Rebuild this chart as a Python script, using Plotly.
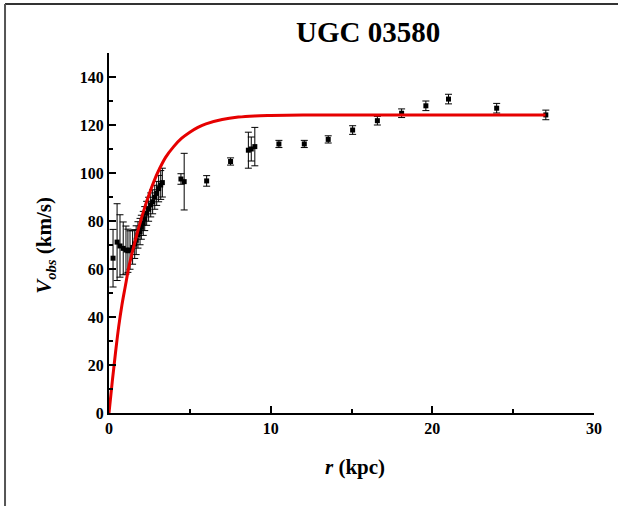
import plotly.graph_objects as go

# Observed rotation curve of UGC 03580
r_obs = [0.25, 0.50, 0.68, 0.88, 1.05, 1.17, 1.30, 1.46, 1.59, 1.68, 1.79, 1.92,
         2.00, 2.12, 2.21, 2.33, 2.45, 2.58, 2.70, 2.83, 2.95, 3.07, 3.20, 3.30,
         4.45, 4.65, 6.04, 7.52, 8.62, 8.80, 9.02, 10.51, 12.08, 13.56, 15.07,
         16.60, 18.10, 19.60, 21.00, 23.98, 27.02]
v_obs = [64.5, 71.2, 69.6, 68.6, 67.9, 67.6, 67.9, 69.0, 70.4, 72.0, 74.2, 75.6,
         77.4, 79.0, 81.0, 83.2, 84.9, 86.7, 88.0, 89.9, 91.5, 93.5, 95.0, 96.0,
         97.5, 96.4, 96.7, 104.8, 109.5, 110.0, 111.0, 112.1, 112.1, 114.0, 117.9,
         121.8, 124.9, 128.0, 130.8, 127.0, 124.2]
v_err = [12, 16, 13, 11, 10, 9, 8, 7, 6, 6, 5.5, 5.5,
         5, 5, 5, 5, 5, 5, 5, 5, 5, 5.5, 6, 6,
         2.2, 11.8, 2.2, 1.5, 7.5, 5, 8, 1.5, 1.5, 1.5, 1.8,
         1.8, 1.8, 2, 2, 2, 2]

# Model rotation curve
r_fit = [0, 0.2, 0.4, 0.6, 0.8, 1.0, 1.25, 1.5, 1.75, 2.0, 2.25, 2.5, 2.75, 3.0,
         3.5, 4.0, 4.5, 5.0, 5.5, 6.0, 7.0, 8.0, 9.0, 10.0, 12.0, 15.0, 20.0, 27.0]
v_fit = [0, 13, 25, 36, 45, 52.5, 61.5, 68.5, 75, 81, 86.5, 91.5, 96, 100,
         106.5, 111, 114.5, 117, 119, 120.5, 122.3, 123.3, 123.8, 124, 124.2,
         124.2, 124.2, 124.2]

x_ticks = [0, 10, 20, 30]
y_ticks = [0, 20, 40, 60, 80, 100, 120, 140]

FONT = "Liberation Serif"

fig = go.Figure()
fig.add_trace(go.Scatter(
    x=r_obs, y=v_obs, mode="markers",
    marker=dict(symbol="square", size=5, color="black"),
    error_y=dict(type="data", array=v_err, visible=True,
                 color="black", thickness=1, width=3.5),
    showlegend=False,
))
fig.add_trace(go.Scatter(
    x=r_fit, y=v_fit, mode="lines",
    line=dict(color="#e60000", width=3, shape="spline"),
    showlegend=False,
))

axis_common = dict(
    showline=True, linecolor="black", linewidth=2,
    ticks="inside", tickcolor="black", tickwidth=1.5, ticklen=7,
    showgrid=False, zeroline=False, mirror=False,
    tickfont=dict(family=FONT, size=16, color="black", weight="bold"),
)

fig.update_layout(
    width=618, height=506,
    margin=dict(l=109, r=24, t=53, b=93),
    paper_bgcolor="white", plot_bgcolor="white",
    xaxis=dict(range=[0, 30], tickvals=x_ticks,
               minor=dict(dtick=5, ticks="inside", ticklen=4,
                          tickcolor="black", tickwidth=1.5),
               **axis_common),
    yaxis=dict(range=[0, 150], tickvals=y_ticks,
               minor=dict(dtick=10, ticks="inside", ticklen=4,
                          tickcolor="black", tickwidth=1.5),
               **axis_common),
    annotations=[
        dict(text="<b>UGC 03580</b>", x=0.534, y=1.058, xref="paper", yref="paper",
             xanchor="center", yanchor="middle", showarrow=False,
             font=dict(family=FONT, size=29, color="black")),
        dict(text="<b><i>r</i> (kpc)</b>", x=0.508, y=-0.15, xref="paper", yref="paper",
             xanchor="center", yanchor="middle", showarrow=False,
             font=dict(family=FONT, size=21, color="black")),
        dict(text="<b><i>V</i><sub><i>obs</i></sub> (km/s)</b>", x=-0.132, y=0.467,
             xref="paper", yref="paper", xanchor="center", yanchor="middle",
             textangle=-90, showarrow=False,
             font=dict(family=FONT, size=21, color="black")),
    ],
    shapes=[
        dict(type="line", xref="paper", yref="paper", x0=-0.2144, x1=1.05,
             y0=1.136, y1=1.136, line=dict(color="#333333", width=2)),
        dict(type="line", xref="paper", yref="paper", x0=-0.2144, x1=-0.2144,
             y0=1.136, y1=-0.26, line=dict(color="#555555", width=2)),
    ],
)

fig.write_html("out.html")
